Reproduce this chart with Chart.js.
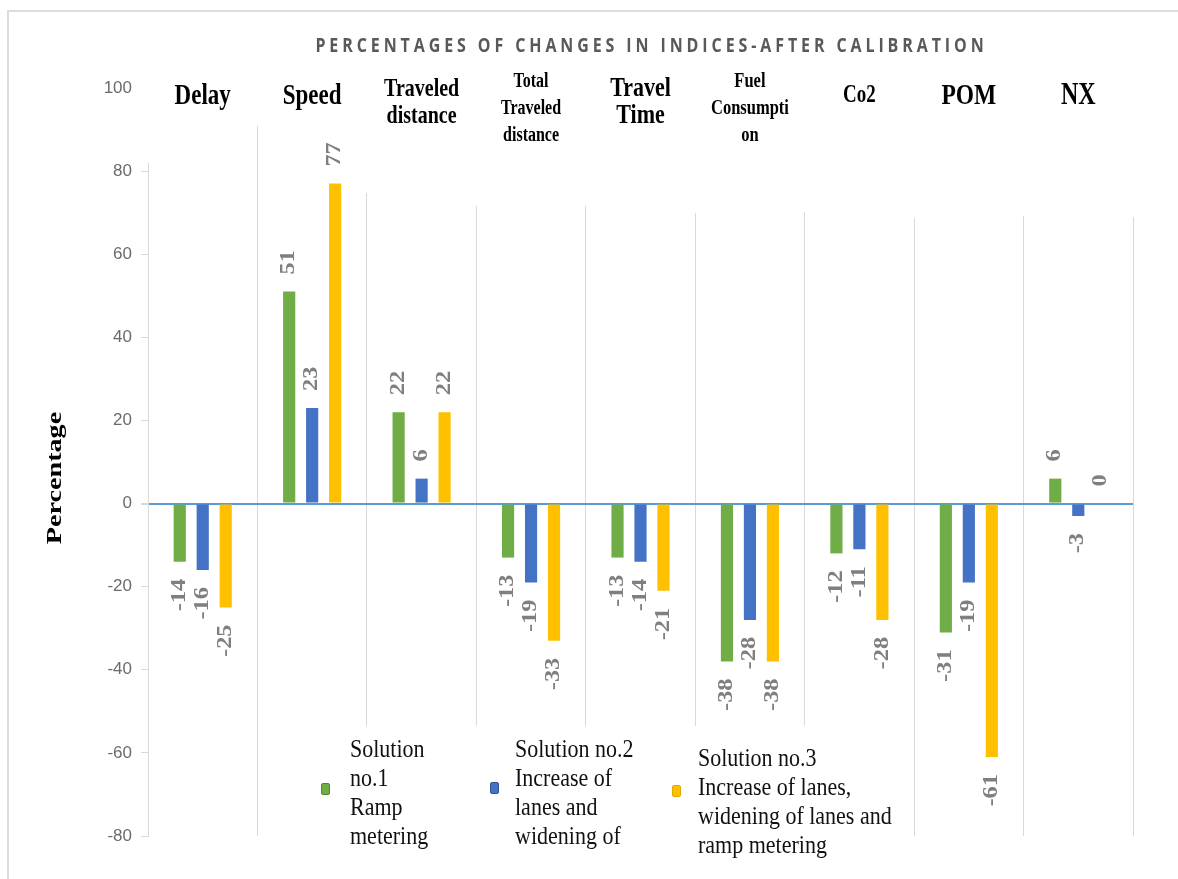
<!DOCTYPE html>
<html>
<head>
<meta charset="utf-8">
<script src="https://cdn.jsdelivr.net/npm/chart.js@4"></script>
<style>
  body { margin: 0; background: #fff; overflow: hidden; }
  #wrap { position: relative; width: 1178px; height: 879px; }
  #frame { position: absolute; left: 7px; top: 10px; width: 1200px; height: 900px; border: 2px solid #dcdcdc; }
  #title { position: absolute; left: 0; top: 31px; width: 1303px; text-align: center;
           font: bold 16px 'Open Sans', sans-serif; letter-spacing: 3.9px; color: #595959;
           transform: scaleY(1.25); transform-origin: top; }
  #legend { position: absolute; left: 305px; top: 726px; width: 600px; height: 145px; background: #fff; }
  .mark { position: absolute; width: 9px; height: 12px; border-radius: 2px; box-sizing: border-box; }
  .txt { position: absolute; font: 22px 'Liberation Serif', serif; line-height: 25px; color: #111;
         white-space: nowrap; transform: scaleY(1.16); transform-origin: top left; }
</style>
</head>
<body>
<div id="wrap">
  <div id="frame"></div>
  <canvas id="myChart"></canvas>
  <div id="title"></div>
  <div id="legend"></div>
</div>
<script>
//chart data
const chartTitle = 'PERCENTAGES OF CHANGES IN INDICES-AFTER CALIBRATION';
const yTitle = 'Percentage';
const categories = [
    ['Delay'], ['Speed'], ['Traveled', 'distance'], ['Total', 'Traveled', 'distance'],
    ['Travel', 'Time'], ['Fuel', 'Consumpti', 'on'], ['Co2'], ['POM'], ['NX']
];
const solution1 = [-14, 51, 22, -13, -13, -38, -12, -31, 6];
const solution2 = [-16, 23, 6, -19, -14, -28, -11, -19, -3];
const solution3 = [-25, 77, 22, -33, -21, -38, -28, -61, 0];
const seriesNames = [
    ['Solution', 'no.1', 'Ramp', 'metering'],
    ['Solution no.2', 'Increase of', 'lanes and', 'widening of'],
    ['Solution no.3', 'Increase of lanes,', 'widening of lanes and', 'ramp metering']
];
const yMin = -80, yMax = 100, yStep = 20;

//colors
const green = '#70AD47';
const blue = '#4472C4';
const yellow = '#FFC000';
const zeroLine = '#5B9BD5';
const gridGray = '#d9d9d9';

//the category names were typed in text boxes of different font sizes
const labelSizes = [23, 23, 20, 16, 22, 16.5, 19, 23.5, 24];
//top ends of the vertical separators (they sit under the category labels)
const sepTops = [163, 126, 193, 206, 206, 213, 212, 218, 216, 217];
//legend placement [marker x, marker y, text x, text y]
const legendPos = [[16, 57, 45, 8], [185, 56, 210, 8], [367, 59, 393, 17]];

document.getElementById('title').textContent = chartTitle;

//html legend from the series names
const legendColors = [green, blue, yellow];
const legendBorders = ['#4e8a2c', '#2f5597', '#e0a800'];
const legendEl = document.getElementById('legend');
seriesNames.forEach((lines, i) => {
    const p = legendPos[i];
    const m = document.createElement('div');
    m.className = 'mark';
    m.style.left = p[0] + 'px';
    m.style.top = p[1] + 'px';
    m.style.background = legendColors[i];
    m.style.border = '1px solid ' + legendBorders[i];
    legendEl.appendChild(m);
    const t = document.createElement('div');
    t.className = 'txt';
    t.style.left = p[2] + 'px';
    t.style.top = p[3] + 'px';
    t.innerHTML = lines.join('<br>');
    legendEl.appendChild(t);
});

//hide the tops of the separators, draw category names, values and y title
const decorPlugin = {
    id: 'decor',
    beforeDatasetsDraw(chart) {
        const {ctx, chartArea} = chart;
        const step = chartArea.width / categories.length;
        ctx.save();
        ctx.fillStyle = '#fff';
        for (let i = 0; i < sepTops.length; i++) {
            const x = chartArea.left + i * step;
            const w = i === 0 ? 12 : 3;
            ctx.fillRect(x - w, chartArea.top - 15, w + 3, sepTops[i] - chartArea.top + 15);
        }
        ctx.restore();
    },
    afterDatasetsDraw(chart) {
        const {ctx} = chart;
        const xs = chart.scales.x;
        ctx.save();
        //category names
        ctx.fillStyle = '#000';
        ctx.textAlign = 'center';
        ctx.textBaseline = 'middle';
        categories.forEach((lines, i) => {
            const cx = xs.getPixelForValue(i);
            const y0 = 96 - (lines.length - 1) * 7;
            ctx.font = 'bold ' + labelSizes[i] + 'px "Liberation Serif", serif';
            lines.forEach((ln, j) => {
                ctx.save();
                ctx.translate(cx, y0 + j * 27);
                ctx.scale(1, 1.28);
                ctx.fillText(ln, 0, 0);
                ctx.restore();
            });
        });
        //value labels
        ctx.fillStyle = '#7f7f7f';
        ctx.font = 'bold 20px "Liberation Serif", serif';
        ctx.textBaseline = 'middle';
        chart.data.datasets.forEach((ds, di) => {
            const meta = chart.getDatasetMeta(di);
            meta.data.forEach((bar, i) => {
                const v = ds.data[i];
                const pos = v >= 0;
                ctx.save();
                ctx.translate(bar.x, bar.y + (pos ? -17 : 17));
                ctx.rotate(-Math.PI / 2);
                ctx.scale(1.22, 1);
                ctx.textAlign = pos ? 'left' : 'right';
                ctx.fillText(String(v), 0, 0);
                ctx.restore();
            });
        });
        //y axis title
        ctx.fillStyle = '#000';
        ctx.font = 'bold 22px "Liberation Serif", serif';
        ctx.textAlign = 'center';
        ctx.translate(55, 478);
        ctx.rotate(-Math.PI / 2);
        ctx.scale(1.28, 1);
        ctx.fillText(yTitle, 0, 0);
        ctx.restore();
    }
};

const data = {
    labels: categories,
    datasets: [
        { label: seriesNames[0].join(' '), data: solution1, backgroundColor: green },
        { label: seriesNames[1].join(' '), data: solution2, backgroundColor: blue },
        { label: seriesNames[2].join(' '), data: solution3, backgroundColor: yellow }
    ]
};

const config = {
    type: 'bar',
    data: data,
    options: {
        responsive: true,
        maintainAspectRatio: false,
        animation: false,
        categoryPercentage: 0.63,
        barPercentage: 0.53,
        layout: { padding: { left: 0, top: 88, right: 45, bottom: 43 } },
        plugins: {
            legend: { display: false },
            title: { display: false },
            tooltip: { enabled: false }
        },
        scales: {
            x: {
                ticks: { display: false },
                grid: { offset: true, color: gridGray, drawTicks: false },
                border: { display: false }
            },
            y: {
                min: yMin,
                max: yMax,
                afterFit: function(scale) { scale.width = 148; },
                ticks: {
                    stepSize: yStep,
                    padding: 9,
                    color: '#6b6b6b',
                    font: { family: 'Liberation Sans', size: 17 }
                },
                grid: {
                    color: c => c.tick && c.tick.value === 0 ? zeroLine : 'rgba(0,0,0,0)',
                    lineWidth: c => c.tick && c.tick.value === 0 ? 2 : 1,
                    tickColor: gridGray,
                    tickLength: 7
                },
                border: { color: gridGray }
            }
        }
    },
    plugins: [decorPlugin]
};

const ctx = document.getElementById('myChart').getContext('2d');
const myChart = new Chart(ctx, config);
</script>
</body>
</html>
